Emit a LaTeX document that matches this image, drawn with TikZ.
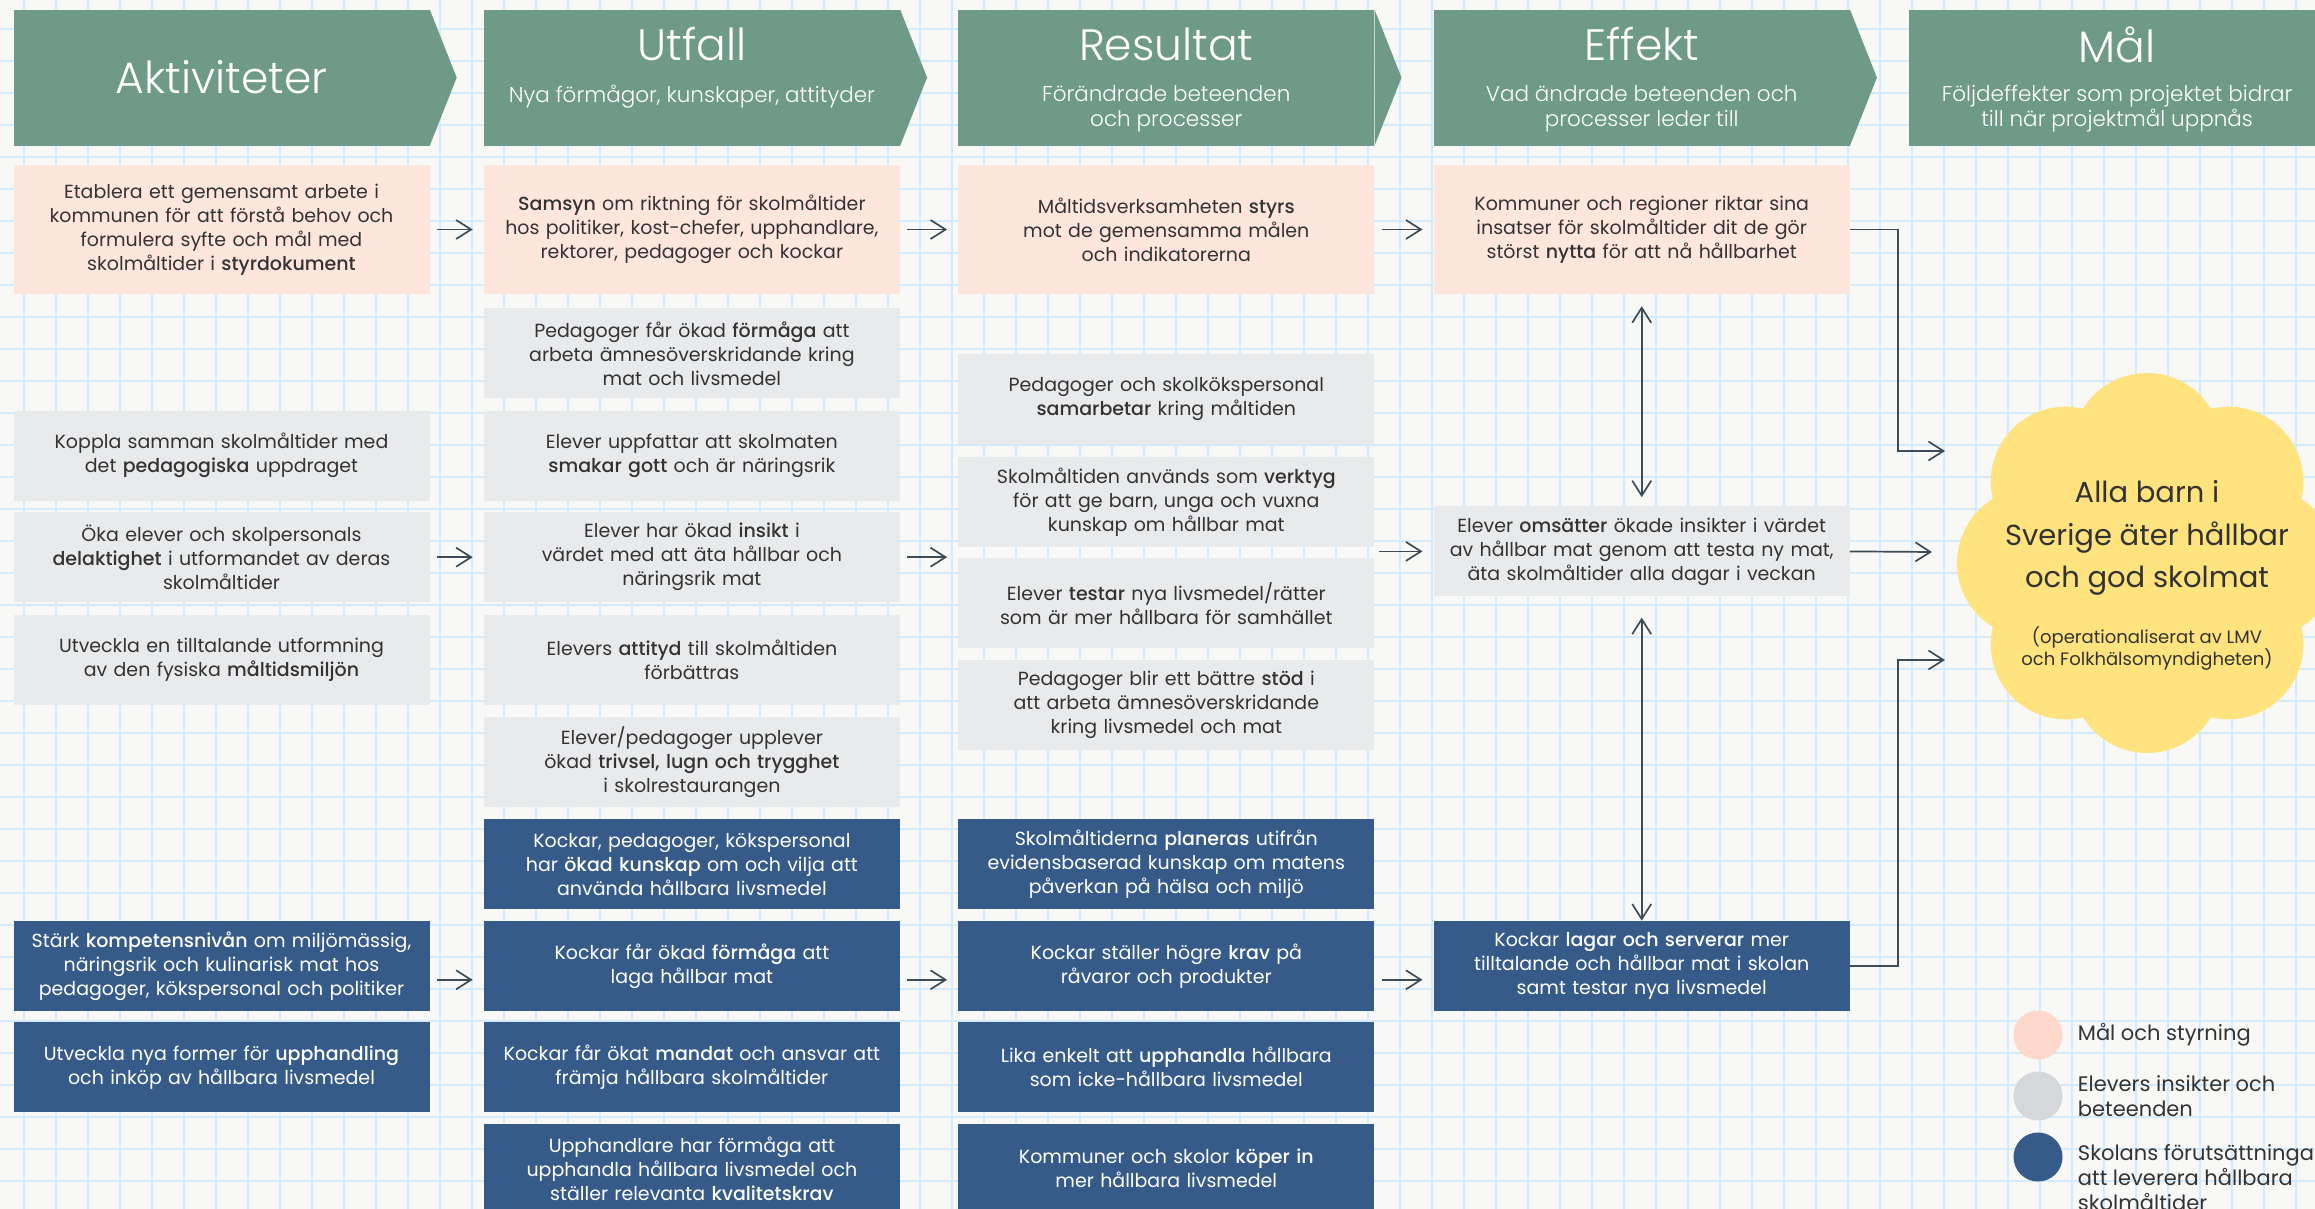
\documentclass[tikz,border=0pt]{standalone}
\usepackage{fontspec}
\setmainfont{Poppins}[BoldFont={Poppins Medium}]
\newfontfamily\hdrfont{Poppins Light}
\usetikzlibrary{positioning,calc,arrows.meta}

\definecolor{paper}{HTML}{F8F8F6}
\definecolor{gridc}{HTML}{D3EBFA}
\definecolor{hdrgreen}{HTML}{6F9A88}
\definecolor{pinkfill}{HTML}{FFE6DD}
\definecolor{greyfill}{HTML}{E9EAEC}
\definecolor{bluefill}{HTML}{375B89}
\definecolor{cloudy}{HTML}{FFE37F}
\definecolor{arrowc}{HTML}{3E4C57}
\definecolor{ink}{HTML}{333333}
\definecolor{legpink}{HTML}{FED8CB}
\definecolor{leggrey}{HTML}{D5D7DA}

\begin{document}
\begin{tikzpicture}[x=1pt, y=-1pt,
 cbox/.style = {minimum width=416pt, minimum height=90pt, inner sep=0pt, text width=410pt, align=center, text=ink, font=\fontsize{19}{24}\selectfont},
 pinkbox/.style = {cbox, fill=pinkfill, minimum height=129pt},
 greybox/.style = {cbox, fill=greyfill},
 bluebox/.style = {cbox, fill=bluefill, text=white},
 hdr/.style = {fill=hdrgreen, minimum width=416pt, minimum height=136pt, inner sep=0pt},
 ttl/.style = {text=white, inner sep=0pt, font=\hdrfont\fontsize{44}{50}\selectfont},
 subttl/.style = {anchor=north, text=white, inner sep=0pt, align=center, font=\hdrfont\fontsize{21.5}{25}\selectfont},
 arr/.style = {draw=arrowc, line width=1.7pt, -{Straight Barb[length=15pt, width=19pt]}},
 colarr/.style = {arr, shorten <=7pt, shorten >=11pt},
 dblarr/.style = {arr, {Straight Barb[length=15pt, width=19pt]}-{Straight Barb[length=15pt, width=19pt]}},
 dot/.style = {circle, inner sep=0pt, minimum size=49pt},
 legtxt/.style = {inner sep=0pt, align=left, text=ink, font=\fontsize{21}{25}\selectfont},
 goaltxt/.style = {align=center, text=ink, inner sep=0pt, font=\fontsize{29}{42.5}\selectfont},
 goalnote/.style = {align=center, text=ink, inner sep=0pt, font=\fontsize{18}{22}\selectfont}]

\useasboundingbox (0,0) rectangle (2315,1209);
\fill[paper] (0,0) rectangle (2315,1209);
\draw[gridc, line width=2pt, step=32pt, shift={(24,29)}] (-64,1210) grid (2320,-64);

\node[pinkbox] (a1) at (221.5,229.5) {Etablera ett gemensamt arbete i\\kommunen för att förstå behov och\\formulera syfte och mål med\\skolmåltider i \textbf{styrdokument}};
\node[pinkbox, right=54pt of a1] (u1) {\textbf{Samsyn} om riktning för skolmåltider\\hos politiker, kost-chefer, upphandlare,\\rektorer, pedagoger och kockar};
\node[pinkbox, right=58pt of u1] (r1) {Måltidsverksamheten \textbf{styrs}\\mot de gemensamma målen\\och indikatorerna};
\node[pinkbox, right=59pt of r1] (e1) {Kommuner och regioner riktar sina\\insatser för skolmåltider dit de gör\\störst \textbf{nytta} för att nå hållbarhet};

\node[hdr, above=19pt of a1] (h1) {};
\node[hdr, above=19pt of u1] (h2) {};
\node[hdr, above=19pt of r1] (h3) {};
\node[hdr, above=19pt of e1] (h4) {};
\node[hdr, right=59pt of h4] (h5) {};
\fill[hdrgreen] (h1.north east) -- ($(h1.east)+(27,0)$) -- (h1.south east) -- cycle;
\fill[hdrgreen] (h2.north east) -- ($(h2.east)+(27,0)$) -- (h2.south east) -- cycle;
\fill[hdrgreen] (h3.north east) -- ($(h3.east)+(27,0)$) -- (h3.south east) -- cycle;
\fill[hdrgreen] (h4.north east) -- ($(h4.east)+(27,0)$) -- (h4.south east) -- cycle;

\node[ttl] (t1) at (h1) {Aktiviteter};
\node[ttl] (t2) at ($(h2.north)+(0,35)$) {Utfall};
\node[ttl] (t3) at ($(h3.north)+(0,35)$) {Resultat};
\node[ttl] (t4) at ($(h4.north)+(0,35)$) {Effekt};
\node[ttl] (t5) at ($(h5.north)+(0,35)$) {Mål};
\node[subttl] (s2) at ($(h2.north)+(0,75)$) {Nya förmågor, kunskaper, attityder};
\node[subttl] (s3) at ($(h3.north)+(0,76)$) {Förändrade beteenden\\och processer};
\node[subttl] (s4) at ($(h4.north)+(0,76)$) {Vad ändrade beteenden och\\processer leder till};
\node[subttl] (s5) at ($(h5.north)+(0,76)$) {Följdeffekter som projektet bidrar\\till när projektmål uppnås};

\node[greybox, below=14pt of u1] (u2) {Pedagoger får ökad \textbf{förmåga} att\\arbeta ämnesöverskridande kring\\mat och livsmedel};
\node[greybox, below=12pt of u2] (u3) {Elever uppfattar att skolmaten\\\textbf{smakar gott} och är näringsrik};
\node[greybox, below=11pt of u3] (u4) {Elever har ökad \textbf{insikt} i\\värdet med att äta hållbar och\\näringsrik mat};
\node[greybox, below=12pt of u4] (u5) {Elevers \textbf{attityd} till skolmåltiden\\förbättras};
\node[greybox, below=12pt of u5] (u6) {Elever/pedagoger upplever\\ökad \textbf{trivsel, lugn och trygghet}\\i skolrestaurangen};
\node[bluebox, below=12pt of u6] (u7) {Kockar, pedagoger, kökspersonal\\har \textbf{ökad kunskap} om och vilja att\\använda hållbara livsmedel};
\node[bluebox, below=11pt of u7] (u8) {Kockar får ökad \textbf{förmåga} att\\laga hållbar mat};
\node[bluebox, below=11pt of u8] (u9) {Kockar får ökat \textbf{mandat} och ansvar att\\främja hållbara skolmåltider};
\node[bluebox, below=11pt of u9] (u10) {Upphandlare har förmåga att\\upphandla hållbara livsmedel och\\ställer relevanta \textbf{kvalitetskrav}};

\node[greybox, left=54pt of u3] (a2) {Koppla samman skolmåltider med\\det \textbf{pedagogiska} uppdraget};
\node[greybox, left=54pt of u4] (a3) {Öka elever och skolpersonals\\\textbf{delaktighet} i utformandet av deras\\skolmåltider};
\node[greybox, left=54pt of u5] (a4) {Utveckla en tilltalande utformning\\av den fysiska \textbf{måltidsmiljön}};
\node[bluebox, left=54pt of u8] (a5) {Stärk \textbf{kompetensnivån} om miljömässig,\\näringsrik och kulinarisk mat hos\\pedagoger, kökspersonal och politiker};
\node[bluebox, left=54pt of u9] (a6) {Utveckla nya former för \textbf{upphandling}\\och inköp av hållbara livsmedel};

\node[greybox, below=60pt of r1] (r2) {Pedagoger och skolkökspersonal\\\textbf{samarbetar} kring måltiden};
\node[greybox, below=12pt of r2] (r3) {Skolmåltiden används som \textbf{verktyg}\\för att ge barn, unga och vuxna\\kunskap om hållbar mat};
\node[greybox, below=11pt of r3] (r4) {Elever \textbf{testar} nya livsmedel/rätter\\som är mer hållbara för samhället};
\node[greybox, below=11pt of r4] (r5) {Pedagoger blir ett bättre \textbf{stöd} i\\att arbeta ämnesöverskridande\\kring livsmedel och mat};
\node[bluebox, right=58pt of u7] (r6) {Skolmåltiderna \textbf{planeras} utifrån\\evidensbaserad kunskap om matens\\påverkan på hälsa och miljö};
\node[bluebox, right=58pt of u8] (r7) {Kockar ställer högre \textbf{krav} på\\råvaror och produkter};
\node[bluebox, right=58pt of u9] (r8) {Lika enkelt att \textbf{upphandla} hållbara\\som icke-hållbara livsmedel};
\node[bluebox, right=58pt of u10] (r9) {Kommuner och skolor \textbf{köper in}\\mer hållbara livsmedel};

\node[greybox, below=212pt of e1] (e2) {Elever \textbf{omsätter} ökade insikter i värdet\\av hållbar mat genom att testa ny mat,\\äta skolmåltider alla dagar i veckan};
\node[bluebox, right=59pt of r7] (e3) {Kockar \textbf{lagar och serverar} mer\\tilltalande och hållbar mat i skolan\\samt testar nya livsmedel};

\coordinate (gc) at (2147,563);
\fill[cloudy] (gc) circle[radius=130]
 ($(gc)+(0:115)$) circle[radius=75] ($(gc)+(45:115)$) circle[radius=75]
 ($(gc)+(90:115)$) circle[radius=75] ($(gc)+(135:115)$) circle[radius=75]
 ($(gc)+(180:115)$) circle[radius=75] ($(gc)+(225:115)$) circle[radius=75]
 ($(gc)+(270:115)$) circle[radius=75] ($(gc)+(315:115)$) circle[radius=75];
\node[goaltxt] (goal) at (2147,538) {Alla barn i\\Sverige äter hållbar\\och god skolmat};
\node[goalnote] (note) at (2147,649) {(operationaliserat av LMV\\och Folkhälsomyndigheten)};

\coordinate (g1) at (1945,451);
\coordinate (g2) at (1932,552);
\coordinate (g3) at (1945,660);

\draw[colarr] (a1) to (u1);
\draw[colarr] (u1) to (r1);
\draw[colarr] (r1) to (e1);
\draw[colarr] (a3) to (u4);
\draw[colarr] (u4) to (u4 -| r3.west);
\draw[colarr, shorten <=4pt] (e2 -| r3.east) to (e2);
\draw[colarr] ([yshift=-14pt]a5.east) to ([yshift=-14pt]u8.west);
\draw[colarr] ([yshift=-14pt]u8.east) to ([yshift=-14pt]r7.west);
\draw[colarr] ([yshift=-14pt]r7.east) to ([yshift=-14pt]e3.west);
\draw[dblarr, shorten <=12pt, shorten >=9pt] (e1) to (e2);
\draw[dblarr, shorten <=21pt] (e2) to (e3);
\draw[arr] (e1.east) -- ++(48,0) |- (g1);
\draw[arr] (e2.east) -- (g2);
\draw[arr] (e3.east) -- ++(48,0) |- (g3);

\node[dot, fill=legpink] (lg1) at (2038,1035) {};
\node[dot, fill=leggrey] (lg2) at (2038,1096) {};
\node[dot, fill=bluefill] (lg3) at (2038,1157) {};
\node[legtxt, right=15pt of lg1] (lt1) {Mål och styrning};
\node[legtxt, right=15pt of lg2] (lt2) {Elevers insikter och\\beteenden};
\node[legtxt, right=15pt of lg3, yshift=-21pt] (lt3) {Skolans förutsättningar\\att leverera hållbara\\skolmåltider};

\end{tikzpicture}
\end{document}
